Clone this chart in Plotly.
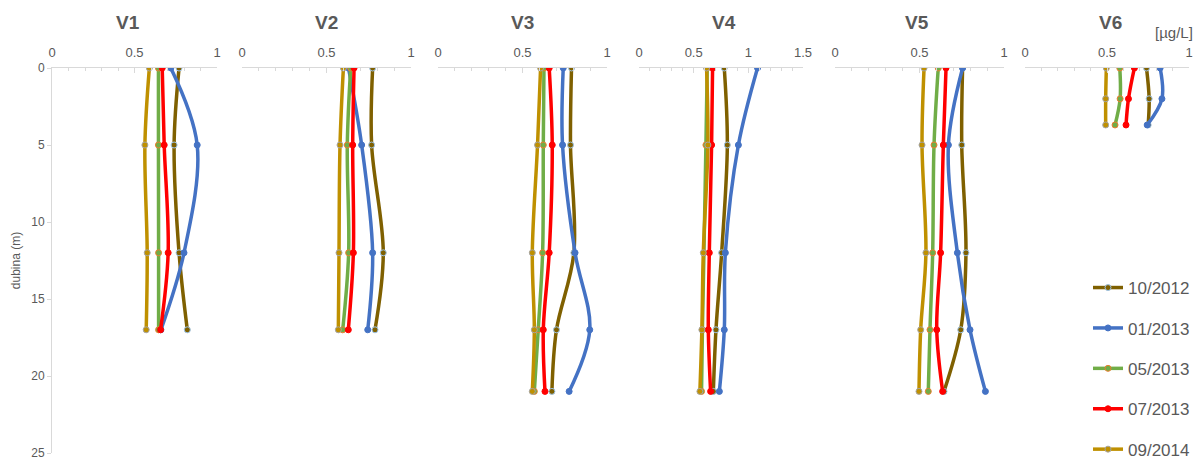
import plotly.graph_objects as go

panels = ["V1", "V2", "V3", "V4", "V5", "V6"]
series = ["10/2012", "01/2013", "05/2013", "07/2013", "09/2014"]

depths = {
    "V1": [0, 5, 12, 17],
    "V2": [0, 5, 12, 17],
    "V3": [0, 5, 12, 17, 21],
    "V4": [0, 5, 12, 17, 21],
    "V5": [0, 5, 12, 17, 21],
    "V6": [0, 2, 3.7],
}

v1_10_2012 = [0.77, 0.74, 0.77, 0.82]
v1_01_2013 = [0.72, 0.88, 0.80, 0.66]
v1_05_2013 = [0.645, 0.645, 0.646, 0.646]
v1_07_2013 = [0.668, 0.68, 0.704, 0.658]
v1_09_2014 = [0.59, 0.563, 0.577, 0.571]

v2_10_2012 = [0.773, 0.767, 0.836, 0.787]
v2_01_2013 = [0.63, 0.708, 0.773, 0.744]
v2_05_2013 = [0.643, 0.623, 0.631, 0.596]
v2_07_2013 = [0.663, 0.655, 0.659, 0.629]
v2_09_2014 = [0.60, 0.58, 0.574, 0.57]

v3_10_2012 = [0.79, 0.784, 0.804, 0.701, 0.674]
v3_01_2013 = [0.741, 0.737, 0.811, 0.898, 0.776]
v3_05_2013 = [0.627, 0.623, 0.619, 0.593, 0.57]
v3_07_2013 = [0.658, 0.676, 0.658, 0.623, 0.633]
v3_09_2014 = [0.607, 0.589, 0.558, 0.57, 0.558]

v4_10_2012 = [0.78, 0.808, 0.756, 0.704, 0.68]
v4_01_2013 = [1.084, 0.909, 0.79, 0.78, 0.735]
v4_05_2013 = [0.624, 0.612, 0.594, 0.58, 0.572]
v4_07_2013 = [0.673, 0.664, 0.643, 0.634, 0.655]
v4_09_2014 = [0.618, 0.63, 0.588, 0.575, 0.557]

v5_10_2012 = [0.755, 0.75, 0.775, 0.744, 0.645]
v5_01_2013 = [0.755, 0.671, 0.724, 0.799, 0.89]
v5_05_2013 = [0.611, 0.586, 0.578, 0.562, 0.552]
v5_07_2013 = [0.657, 0.641, 0.625, 0.602, 0.637]
v5_09_2014 = [0.527, 0.515, 0.538, 0.507, 0.497]

v6_10_2012 = [0.741, 0.757, 0.751]
v6_01_2013 = [0.824, 0.835, 0.745]
v6_05_2013 = [0.578, 0.58, 0.549]
v6_07_2013 = [0.667, 0.631, 0.616]
v6_09_2014 = [0.496, 0.492, 0.492]

values = {
    "V1": [v1_10_2012, v1_01_2013, v1_05_2013, v1_07_2013, v1_09_2014],
    "V2": [v2_10_2012, v2_01_2013, v2_05_2013, v2_07_2013, v2_09_2014],
    "V3": [v3_10_2012, v3_01_2013, v3_05_2013, v3_07_2013, v3_09_2014],
    "V4": [v4_10_2012, v4_01_2013, v4_05_2013, v4_07_2013, v4_09_2014],
    "V5": [v5_10_2012, v5_01_2013, v5_05_2013, v5_07_2013, v5_09_2014],
    "V6": [v6_10_2012, v6_01_2013, v6_05_2013, v6_07_2013, v6_09_2014],
}

x_max = {"V1": 1, "V2": 1, "V3": 1, "V4": 1.5, "V5": 1, "V6": 1}
y_ticks = [0, 5, 10, 15, 20, 25]

line_colors = ["#7f6000", "#4472c4", "#70ad47", "#ff0000", "#bf9000"]
marker_lines = ["#9dc3e6", "#4472c4", "#ed7d31", "#ff0000", "#a5a5a5"]

# page body has an 8px margin; keep the figure inside the visible area
OFF = 8
W, H = 1203 - 2 * OFF, 459 - OFF


def px(xp):
    return (xp - OFF) / W


def py(yp):
    return 1 - (yp - OFF) / H


px_domains = [(52, 217), (242, 411), (438, 607), (639, 803), (835, 1004), (1025, 1189)]
title_x = [127.5, 326.5, 522.5, 724, 917, 1110]
y_top, y_bot = 68, 453

GRAY = "#595959"
FONT = "Liberation Sans"

fig = go.Figure()
for pi, p in enumerate(panels):
    xa = "x" if pi == 0 else f"x{pi+1}"
    for si, s in enumerate(series):
        fig.add_trace(go.Scatter(
            x=values[p][si], y=depths[p], xaxis=xa, yaxis="y",
            mode="lines+markers", name=s, legendgroup=s,
            showlegend=(pi == 0),
            line=dict(color=line_colors[si], width=3.5, shape="spline", smoothing=1),
            marker=dict(size=6, color=line_colors[si],
                        line=dict(color=marker_lines[si], width=1)),
        ))

layout = dict(
    width=W, height=H,
    margin=dict(l=0, r=0, t=0, b=0, autoexpand=False),
    paper_bgcolor="white", plot_bgcolor="white",
    font=dict(family=FONT, color=GRAY, size=12),
    showlegend=True,
    legend=dict(x=px(1088), y=py(270), xanchor="left", yanchor="top",
                font=dict(size=17, color=GRAY, family=FONT),
                tracegroupgap=15.3, bgcolor="rgba(0,0,0,0)"),
    yaxis=dict(domain=[py(y_bot), py(y_top)], range=[25, 0],
               tickvals=y_ticks, showgrid=False, zeroline=False, automargin=False,
               showline=True, linecolor="#d9d9d9", linewidth=1,
               ticks="outside", ticklen=4, tickcolor="#d9d9d9",
               ticklabeloverflow="allow",
               tickfont=dict(size=12, color=GRAY), anchor="x",
               title=dict(text="dubina (m)", font=dict(size=12, color=GRAY), standoff=8)),
)
annotations = []
for pi, p in enumerate(panels):
    key = "xaxis" if pi == 0 else f"xaxis{pi+1}"
    d0, d1 = px_domains[pi]
    xm = x_max[p]
    layout[key] = dict(
        domain=[px(d0), px(d1)], range=[0, xm], side="top", anchor="y", automargin=False,
        tickvals=[i * 0.5 for i in range(int(xm / 0.5) + 1)],
        ticktext=[("%g" % (i * 0.5)) for i in range(int(xm / 0.5) + 1)],
        showgrid=False, zeroline=False,
        showline=True, linecolor="#d9d9d9", linewidth=1,
        ticks="inside", ticklen=5, tickcolor="#d9d9d9",
        ticklabelstandoff=5, ticklabeloverflow="allow",
        minor=dict(dtick=0.1, ticks="inside", ticklen=3, tickcolor="#d9d9d9", showgrid=False),
        tickfont=dict(size=13, color=GRAY),
    )
    annotations.append(dict(text=f"<b>{p}</b>", x=px(title_x[pi]), y=py(23),
                            xref="paper", yref="paper", showarrow=False,
                            xanchor="center", yanchor="middle",
                            font=dict(size=19, color=GRAY, family=FONT)))
annotations.append(dict(text="[µg/L]", x=px(1194), y=py(32), xref="paper", yref="paper",
                        xanchor="right", yanchor="middle", borderpad=0,
                        showarrow=False, font=dict(size=15, color=GRAY, family=FONT)))
layout["annotations"] = annotations
fig.update_layout(**layout)

fig.write_html("out.html")
